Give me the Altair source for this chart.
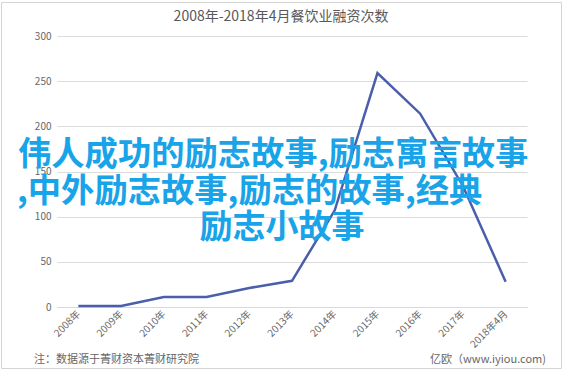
import altair as alt
import pandas as pd

years = ["2008年", "2009年", "2010年", "2011年", "2012年", "2013年",
         "2014年", "2015年", "2016年", "2017年", "2018年4月"]
counts = [1, 1, 11, 11, 21, 29, 107, 259, 214, 134, 28]

title_text = "2008年-2018年4月餐饮业融资次数"
overlay_lines = ["伟人成功的励志故事,励志寓言故事", ",中外励志故事,励志的故事,经典", "励志小故事"]
note_left = "注：数据源于菁财资本菁财研究院"
note_right = "亿欧（www.iyiou.com)"

df = pd.DataFrame({"year": years, "count": counts})
one = pd.DataFrame({"a": [0]})

PL, PT = 57, 36
W, H = 470, 271

line = alt.Chart(df).mark_line(color="#4a5eab", strokeWidth=2.5).encode(
    x=alt.X("year:O", sort=years, title=None,
            axis=alt.Axis(labelAngle=-45, labelAlign="right", labelBaseline="middle",
                          labelPadding=5, ticks=False, domainColor="#d9d9d9",
                          labelColor="#666666", labelFontSize=10, labelFont="Noto Sans CJK SC")),
    y=alt.Y("count:Q", scale=alt.Scale(domain=[0, 300], nice=False), title=None,
            axis=alt.Axis(values=[0, 50, 100, 150, 200, 250, 300], domain=False, ticks=False,
                          labelPadding=6, gridColor="#dcdcdc", labelColor="#666666",
                          labelFontSize=10, labelFont="Noto Sans CJK SC")),
)

def txt(t, x, y, size, color, align="center", weight="normal"):
    return alt.Chart(one).mark_text(
        text=t, fontSize=size, color=color, align=align, baseline="middle",
        font="Noto Sans CJK SC", fontWeight=weight,
    ).encode(x=alt.value(x - PL), y=alt.value(y - PT))

border = alt.Chart(one).mark_rect(fill=None, stroke="#d4d4d4", strokeWidth=1).encode(
    x=alt.value(1.5 - PL), x2=alt.value(561.5 - PL),
    y=alt.value(2.5 - PT), y2=alt.value(368.5 - PT),
)

cyan = "#19a3e8"
chart = alt.layer(
    border,
    line,
    txt(title_text, 281, 17, 14, "#595959"),
    txt(overlay_lines[0], 18, 155, 33.3, cyan, align="left", weight="bold"),
    txt(overlay_lines[1], 17, 192, 33.3, cyan, align="left", weight="bold"),
    txt(overlay_lines[2], 282, 228, 33, cyan, weight="bold"),
    txt(note_left, 34, 360, 11, "#666666", align="left"),
    txt(note_right, 546, 360, 11, "#666666", align="right"),
).properties(
    width=W, height=H,
    autosize=alt.AutoSizeParams(type="none"),
    padding={"left": PL, "top": PT, "right": 563 - PL - W, "bottom": 370 - PT - H},
    background="white",
).configure_view(stroke=None)

chart.save("out.html", embed_options={"renderer": "svg", "actions": False})
